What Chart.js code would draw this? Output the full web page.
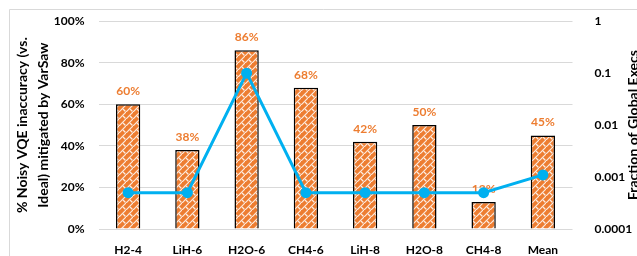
<!DOCTYPE html>
<html>
<head>
<meta charset="utf-8">
<script src="https://cdn.jsdelivr.net/npm/chart.js@4"></script>
<style>
  body { margin: 0; background: #fff; }
  #wrap { width: 637px; height: 256px; position: relative; }
</style>
</head>
<body>
<div id="wrap"><canvas id="chart" width="637" height="256"></canvas></div>
<script>
const categories = ["H2-4", "LiH-6", "H2O-6", "CH4-6", "LiH-8", "H2O-8", "CH4-8", "Mean"];
const mitigated = [60, 38, 86, 68, 42, 50, 13, 45];
const globalExecs = [0.0005, 0.0005, 0.1, 0.0005, 0.0005, 0.0005, 0.0005, 0.0011];
const leftTicks = [0, 20, 40, 60, 80, 100];
const rightTicks = [0.0001, 0.001, 0.01, 0.1, 1];

const ORANGE = "#ED7D31";
const BLUE = "#00B0F0";
const FONT = "Lato";

// hatched orange fill like the excel pattern
function makePattern() {
  const c = document.createElement("canvas");
  c.width = 7; c.height = 7;
  const g = c.getContext("2d");
  g.fillStyle = ORANGE;
  g.fillRect(0, 0, 7, 7);
  g.strokeStyle = "rgba(255,255,255,0.85)";
  g.lineWidth = 1.2;
  g.beginPath();
  g.moveTo(-1, 8); g.lineTo(8, -1);
  g.stroke();
  g.beginPath();
  g.moveTo(4, 4); g.lineTo(6.5, 6.5);
  g.stroke();
  return g.createPattern(c, "repeat");
}

const ctx = document.getElementById("chart").getContext("2d");

const extras = {
  id: "extras",
  beforeDraw(chart) {
    const c = chart.ctx;
    c.save();
    c.fillStyle = "#fff";
    c.fillRect(0, 0, chart.width, chart.height);
    c.strokeStyle = "#D9D9D9";
    c.lineWidth = 1;
    c.beginPath();
    c.moveTo(9.5, 260); c.lineTo(9.5, 9.5); c.lineTo(700, 9.5);
    c.stroke();
    c.restore();
  },
  afterDatasetDraw(chart, args) {
    if (args.index !== 0) return;
    const c = chart.ctx;
    const meta = chart.getDatasetMeta(0);
    c.save();
    c.fillStyle = ORANGE;
    c.font = "bold 12px " + FONT;
    c.textAlign = "center";
    c.textBaseline = "middle";
    meta.data.forEach((bar, i) => {
      c.fillText(mitigated[i] + "%", bar.x, bar.y - 13);
    });
    c.restore();
  },
  afterDraw(chart) {
    const c = chart.ctx;
    c.save();
    c.translate(633, 125);
    c.rotate(-Math.PI / 2);
    c.fillStyle = "#000";
    c.font = "bold 14px " + FONT;
    c.textAlign = "center";
    c.textBaseline = "middle";
    c.fillText("Fraction of Global Execs", 0, 0);
    c.restore();
  }
};

new Chart(ctx, {
  type: "bar",
  data: {
    labels: categories,
    datasets: [{
      type: "bar",
      data: mitigated,
      yAxisID: "y",
      backgroundColor: makePattern(),
      borderColor: "#000",
      borderWidth: 1.5,
      barPercentage: 0.41,
      categoryPercentage: 1,
      order: 1
    }, {
      type: "line",
      data: globalExecs,
      yAxisID: "y1",
      borderColor: BLUE,
      backgroundColor: BLUE,
      borderWidth: 3,
      pointRadius: 5.5,
      pointBackgroundColor: BLUE,
      pointBorderWidth: 0,
      tension: 0,
      order: 0
    }]
  },
  options: {
    responsive: false,
    animation: false,
    layout: { padding: { top: 17, left: 0, right: 0, bottom: 0 } },
    plugins: { legend: { display: false }, tooltip: { enabled: false } },
    scales: {
      x: {
        grid: { display: false },
        border: { display: false },
        afterFit: s => { s.height = 27; },
        ticks: { color: "#000", font: { family: FONT, size: 12, weight: "bold" }, padding: 6, maxRotation: 0 }
      },
      y: {
        position: "left",
        min: 0,
        max: 100,
        afterBuildTicks: s => { s.ticks = leftTicks.map(v => ({ value: v })); },
        afterFit: s => { s.width = 98.5; },
        grid: { color: "#D9D9D9", drawTicks: false },
        border: { display: false },
        ticks: {
          color: "#000",
          padding: 14,
          font: { family: FONT, size: 12, weight: "bold" },
          callback: v => v + "%"
        },
        title: {
          display: true,
          text: ["% Noisy VQE inaccuracy (vs.", "Ideal) mitigated by VarSaw"],
          color: "#000",
          font: { family: FONT, size: 14, weight: "bold", lineHeight: 1.5 },
          padding: { top: 12 }
        }
      },
      y1: {
        type: "logarithmic",
        position: "right",
        min: 0.0001,
        max: 1,
        afterBuildTicks: s => { s.ticks = rightTicks.map(v => ({ value: v })); },
        afterFit: s => { s.width = 64.5; },
        grid: { display: false },
        border: { display: false },
        ticks: {
          color: "#000",
          padding: 14,
          font: { family: FONT, size: 12, weight: "bold" },
          callback: v => String(v)
        }
      }
    }
  },
  plugins: [extras]
});
</script>
</body>
</html>
